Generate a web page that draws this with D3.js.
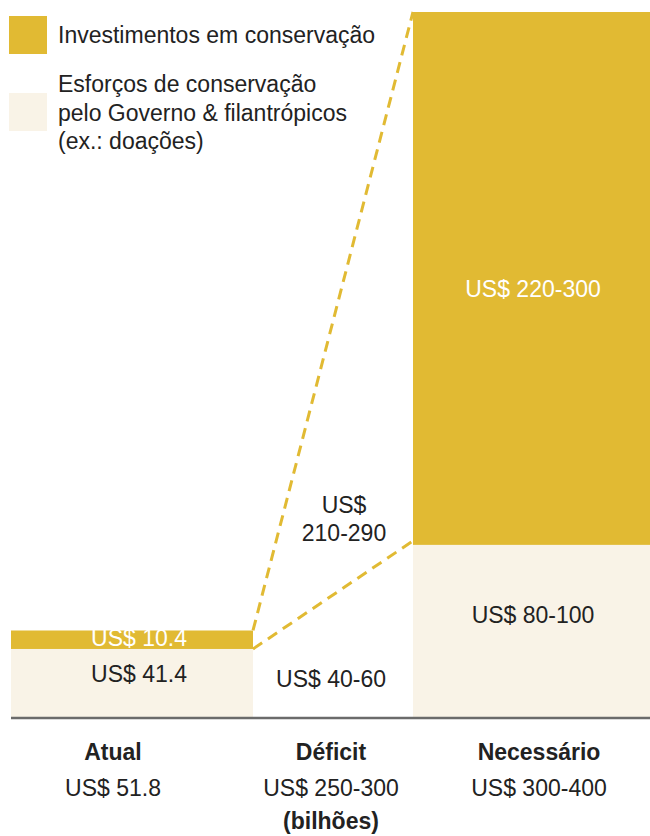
<!DOCTYPE html>
<html>
<head>
<meta charset="utf-8">
<script src="https://cdn.jsdelivr.net/npm/d3@7"></script>
<style>
  html, body { margin: 0; padding: 0; background: #fff; }
  svg { display: block; font-family: "Liberation Sans", Arial, sans-serif; }
</style>
</head>
<body>
<svg id="chart" width="650" height="836"></svg>
<script>
// data
const categories = ["Atual", "Déficit", "Necessário"];
const totalLabels = ["US$ 51.8", "US$ 250-300", "US$ 300-400"];
const governo = [41.4, null, 100];          // Esforços de conservação (governo & filantrópicos)
const investimentos = [10.4, null, 300];    // Investimentos em conservação
const governoLabels = ["US$ 41.4", "US$ 40-60", "US$ 80-100"];
const investLabels = ["US$ 10.4", "US$ 210-290", "US$ 220-300"];
const legendLabels = [
  ["Investimentos em conservação"],
  ["Esforços de conservação", "pelo Governo & filantrópicos", "(ex.: doações)"]
];
const unitLabel = "(bilhões)";

const gold = "#e1ba33";
const cream = "#f9f3e7";
const ink = "#222";

const svg = d3.select("#chart");
const baseY = 717;

// vertical scale (zero sits just under the baseline in the original)
const y = d3.scaleLinear().domain([0, 400]).range([722.5, 12]);

// column spans
const colX0 = d3.scaleOrdinal().domain(categories).range([11, 253, 413]);
const colX1 = d3.scaleOrdinal().domain(categories).range([253, 413, 650]);
const labelX = d3.scaleOrdinal().domain(categories).range([113, 331, 539]);

const g = svg.append("g");

// bars
categories.forEach((c, i) => {
  if (governo[i] == null) return;
  const top1 = governo[i], top2 = governo[i] + investimentos[i];
  g.append("rect")
    .attr("x", colX0(c)).attr("width", colX1(c) - colX0(c))
    .attr("y", y(top1)).attr("height", baseY - y(top1))
    .attr("fill", cream);
  g.append("rect")
    .attr("x", colX0(c)).attr("width", colX1(c) - colX0(c))
    .attr("y", y(top2)).attr("height", y(top1) - y(top2))
    .attr("fill", gold);
});

// dashed connectors from Atual to Necessário
const a = 0, n = 2;
const connectors = [
  [[colX1(categories[a]), y(governo[a] + investimentos[a])], [colX0(categories[n]), y(governo[n] + investimentos[n])]],
  [[colX1(categories[a]), y(governo[a])], [colX0(categories[n]), y(governo[n]) - 4]]
];
g.selectAll(".conn")
  .data(connectors)
  .enter()
  .append("path")
  .attr("d", d3.line())
  .attr("fill", "none")
  .attr("stroke", gold)
  .attr("stroke-width", 3)
  .attr("stroke-dasharray", "11,7");

// baseline
g.append("line")
  .attr("x1", 11).attr("x2", 650)
  .attr("y1", baseY + 1).attr("y2", baseY + 1)
  .attr("stroke", "#6b6b6b").attr("stroke-width", 2.5);

// segment labels (x, baseline y)
const govLabelPos = [[139, 682], [331, 687], [533, 623]];
const invLabelPos = [[139, 646], [344, 513], [533, 297]];

governoLabels.forEach((t, i) => {
  g.append("text")
    .attr("x", govLabelPos[i][0]).attr("y", govLabelPos[i][1])
    .attr("text-anchor", "middle")
    .attr("font-size", 23).attr("fill", ink)
    .text(t);
});
investLabels.forEach((t, i) => {
  const txt = g.append("text")
    .attr("x", invLabelPos[i][0]).attr("y", invLabelPos[i][1])
    .attr("text-anchor", "middle")
    .attr("font-size", 23)
    .attr("fill", governo[i] == null ? ink : "#fff");
  if (governo[i] == null) {
    const parts = t.split(" ");
    txt.append("tspan").attr("x", invLabelPos[i][0]).text(parts[0]);
    txt.append("tspan").attr("x", invLabelPos[i][0]).attr("dy", 28).text(parts[1]);
  } else {
    txt.text(t);
  }
});

// category labels
categories.forEach((c, i) => {
  g.append("text")
    .attr("x", labelX(c)).attr("y", 760)
    .attr("text-anchor", "middle")
    .attr("font-size", 23).attr("font-weight", "bold").attr("fill", ink)
    .text(c);
  g.append("text")
    .attr("x", labelX(c)).attr("y", 796)
    .attr("text-anchor", "middle")
    .attr("font-size", 23).attr("fill", ink)
    .text(totalLabels[i]);
});
g.append("text")
  .attr("x", labelX(categories[1])).attr("y", 829)
  .attr("text-anchor", "middle")
  .attr("font-size", 23).attr("font-weight", "bold").attr("fill", ink)
  .text(unitLabel);

// legend
const legend = svg.append("g");
const legendColors = [gold, cream];
const legendTop = [16, 93];
const legendBase = [43, 92];
legendLabels.forEach((lines, i) => {
  legend.append("rect")
    .attr("x", 9).attr("y", legendTop[i])
    .attr("width", 38).attr("height", 38)
    .attr("fill", legendColors[i]);
  const t = legend.append("text")
    .attr("x", 58).attr("y", legendBase[i])
    .attr("font-size", 23).attr("fill", ink);
  lines.forEach((l, j) => {
    t.append("tspan").attr("x", 58).attr("dy", j === 0 ? 0 : 28.6).text(l);
  });
});
</script>
</body>
</html>
